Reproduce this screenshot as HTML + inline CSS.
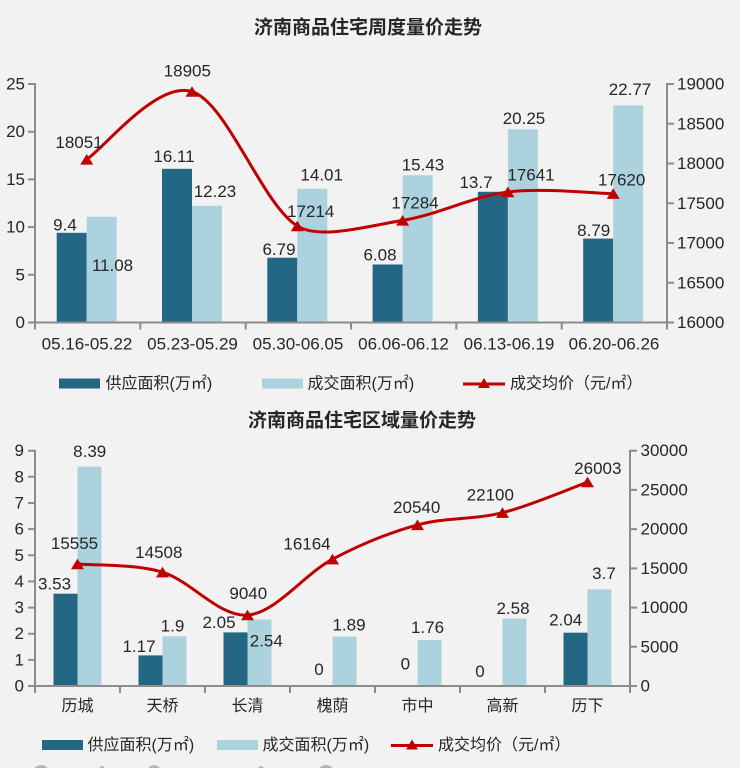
<!DOCTYPE html>
<html><head><meta charset="utf-8">
<style>
html,body{margin:0;padding:0;background:#f2f2f2;}
svg{display:block;}
text{font-family:"Liberation Sans","Noto Sans CJK SC",sans-serif;fill:#262626;}
.t{font-size:19px;font-weight:bold;}
.n{font-size:17px;}
.c{font-size:16px;}
.l{font-size:16px;}
</style></head>
<body>
<svg width="740" height="768" viewBox="0 0 740 768" xmlns="http://www.w3.org/2000/svg">
<rect width="740" height="768" fill="#f2f2f2"/>

<!-- ===== Chart 1 ===== -->
<text class="t" x="368" y="28" text-anchor="middle" dominant-baseline="central">济南商品住宅周度量价走势</text>

<g fill="#246785">
<rect x="56.7" y="232.8" width="30" height="89.7"/>
<rect x="162" y="168.8" width="30" height="153.7"/>
<rect x="267.3" y="257.7" width="30" height="64.8"/>
<rect x="372.6" y="264.5" width="30" height="58"/>
<rect x="477.9" y="191.8" width="30" height="130.7"/>
<rect x="583.2" y="238.6" width="30" height="83.9"/>
</g>
<g fill="#acd2de">
<rect x="86.7" y="216.8" width="30" height="105.7"/>
<rect x="192" y="205.8" width="30" height="116.7"/>
<rect x="297.3" y="188.8" width="30" height="133.7"/>
<rect x="402.6" y="175.3" width="30" height="147.2"/>
<rect x="507.9" y="129.3" width="30" height="193.2"/>
<rect x="613.2" y="105.3" width="30" height="217.2"/>
</g>

<g stroke="#8c8c8c" stroke-width="2" fill="none">
<line x1="35" y1="83" x2="35" y2="323.5"/>
<line x1="667" y1="83" x2="667" y2="323.5"/>
<line x1="34" y1="322.5" x2="668" y2="322.5"/>
<path d="M28 84H35M28 131.7H35M28 179.4H35M28 227.1H35M28 274.8H35M28 322.5H35"/>
<path d="M667 84H674M667 123.75H674M667 163.5H674M667 203.25H674M667 243H674M667 282.75H674M667 322.5H674"/>
<path d="M35 322.5V329.5M140.3 322.5V329.5M245.7 322.5V329.5M351 322.5V329.5M456.3 322.5V329.5M561.7 322.5V329.5M667 322.5V329.5"/>
</g>
<g class="n" text-anchor="end" dominant-baseline="central">
<text x="25" y="84">25</text><text x="25" y="131.7">20</text><text x="25" y="179.4">15</text>
<text x="25" y="227.1">10</text><text x="25" y="274.8">5</text><text x="25" y="322.5">0</text>
</g>
<g class="n" text-anchor="start" dominant-baseline="central">
<text x="677" y="84">19000</text><text x="677" y="123.75">18500</text><text x="677" y="163.5">18000</text>
<text x="677" y="203.25">17500</text><text x="677" y="243">17000</text><text x="677" y="282.75">16500</text>
<text x="677" y="322.5">16000</text>
</g>
<g class="n" text-anchor="middle" dominant-baseline="central">
<text x="87" y="344">05.16-05.22</text><text x="192.5" y="344">05.23-05.29</text>
<text x="298" y="344">05.30-06.05</text><text x="403.5" y="344">06.06-06.12</text>
<text x="509" y="344">06.13-06.19</text><text x="614" y="344">06.20-06.26</text>
</g>

<path d="M86.7 159.4C104.25 148.1 156.9 80.5 192 91.6C227.1 102.7 262.2 204.5 297.3 226C320 240 367.5 226.1 402.6 220.4C437.7 214.73 472.8 196.45 507.9 192C543 187.55 595.65 193.42 613.2 193.7" fill="none" stroke="#c00000" stroke-width="3"/>
<g fill="#c00000">
<path d="M86.7 154L93.2 164.6H80.2Z"/>
<path d="M192 86.2L198.5 96.8H185.5Z"/>
<path d="M297.3 220.6L303.8 231.2H290.8Z"/>
<path d="M402.6 215L409.1 225.6H396.1Z"/>
<path d="M507.9 186.6L514.4 197.2H501.4Z"/>
<path d="M613.2 188.3L619.7 198.9H606.7Z"/>
</g>

<g class="n" text-anchor="middle" dominant-baseline="central">
<text x="65" y="225">9.4</text><text x="112.5" y="265.7">11.08</text>
<text x="174" y="156.7">16.11</text><text x="215" y="191.7">12.23</text>
<text x="279" y="249.3">6.79</text><text x="321.7" y="175">14.01</text>
<text x="380" y="255">6.08</text><text x="423" y="165">15.43</text>
<text x="476" y="182.7">13.7</text><text x="524" y="118.3">20.25</text>
<text x="593.7" y="230.7">8.79</text><text x="630" y="89.3">22.77</text>
<text x="79" y="142.7">18051</text><text x="187.3" y="71">18905</text>
<text x="310.7" y="211.7">17214</text><text x="415" y="203">17284</text>
<text x="531" y="175">17641</text><text x="621.7" y="180">17620</text>
</g>

<rect x="59" y="378.5" width="41" height="10" fill="#246785"/>
<text class="l" x="105.5" y="384" dominant-baseline="central">供应面积(万㎡)</text>
<rect x="262" y="378.5" width="41" height="10" fill="#acd2de"/>
<text class="l" x="307.5" y="384" dominant-baseline="central">成交面积(万㎡)</text>
<line x1="463" y1="384" x2="505" y2="384" stroke="#c00000" stroke-width="3"/>
<path d="M484 378L490 388H478Z" fill="#c00000"/>
<text class="l" x="510" y="384" dominant-baseline="central">成交均价（元/㎡）</text>

<!-- ===== Chart 2 ===== -->
<text class="t" x="362" y="421" text-anchor="middle" dominant-baseline="central">济南商品住宅区域量价走势</text>

<g fill="#246785">
<rect x="53.5" y="593.7" width="24" height="92.3"/>
<rect x="138.5" y="655.4" width="24" height="30.6"/>
<rect x="223.5" y="632.4" width="24" height="53.6"/>
<rect x="563.5" y="632.7" width="24" height="53.3"/>
</g>
<g fill="#acd2de">
<rect x="77.5" y="466.7" width="24" height="219.3"/>
<rect x="162.5" y="636.3" width="24" height="49.7"/>
<rect x="247.5" y="619.6" width="24" height="66.4"/>
<rect x="332.5" y="636.6" width="24" height="49.4"/>
<rect x="417.5" y="640" width="24" height="46"/>
<rect x="502.5" y="618.6" width="24" height="67.4"/>
<rect x="587.5" y="589.3" width="24" height="96.7"/>
</g>

<g stroke="#8c8c8c" stroke-width="2" fill="none">
<line x1="35" y1="450" x2="35" y2="687"/>
<line x1="630" y1="450" x2="630" y2="687"/>
<line x1="34" y1="686" x2="631" y2="686"/>
<path d="M28 450.7H35M28 476.8H35M28 503H35M28 529.1H35M28 555.3H35M28 581.4H35M28 607.6H35M28 633.7H35M28 659.9H35M28 686H35"/>
<path d="M630 450.7H637M630 489.9H637M630 529.1H637M630 568.4H637M630 607.6H637M630 646.8H637M630 686H637"/>
<path d="M35 686V693M120 686V693M205 686V693M290 686V693M375 686V693M460 686V693M545 686V693M630 686V693"/>
</g>
<g class="n" text-anchor="end" dominant-baseline="central">
<text x="24" y="450.7">9</text><text x="24" y="476.8">8</text><text x="24" y="503">7</text>
<text x="24" y="529.1">6</text><text x="24" y="555.3">5</text><text x="24" y="581.4">4</text>
<text x="24" y="607.6">3</text><text x="24" y="633.7">2</text><text x="24" y="659.9">1</text>
<text x="24" y="686">0</text>
</g>
<g class="n" text-anchor="start" dominant-baseline="central">
<text x="640.5" y="450.7">30000</text><text x="640.5" y="489.9">25000</text><text x="640.5" y="529.1">20000</text>
<text x="640.5" y="568.4">15000</text><text x="640.5" y="607.6">10000</text><text x="640.5" y="646.8">5000</text>
<text x="640.5" y="686">0</text>
</g>
<g class="c" text-anchor="middle" dominant-baseline="central">
<text x="77.5" y="706.5">历城</text><text x="162.5" y="706.5">天桥</text><text x="247.5" y="706.5">长清</text>
<text x="332.5" y="706.5">槐荫</text><text x="417.5" y="706.5">市中</text><text x="502.5" y="706.5">高新</text>
<text x="587.5" y="706.5">历下</text>
</g>

<path d="M77.5 564C91.67 565.37 134.17 563.68 162.5 572.2C190.83 580.72 219.17 617.27 247.5 615.1C275.83 612.93 304.17 574.23 332.5 559.2C360.83 544.17 389.17 532.65 417.5 524.9C445.83 517.15 474.17 519.83 502.5 512.7C530.83 505.57 573.33 487.2 587.5 482.1" fill="none" stroke="#c00000" stroke-width="3"/>
<g fill="#c00000">
<path d="M77.5 558.6L84 569.2H71Z"/>
<path d="M162.5 566.8L169 577.4H156Z"/>
<path d="M247.5 609.7L254 620.3H241Z"/>
<path d="M332.5 553.8L339 564.4H326Z"/>
<path d="M417.5 519.5L424 530.1H411Z"/>
<path d="M502.5 507.3L509 517.9H496Z"/>
<path d="M587.5 476.7L594 487.3H581Z"/>
</g>

<g class="n" text-anchor="middle" dominant-baseline="central">
<text x="89.7" y="451.7">8.39</text><text x="74.5" y="543.3">15555</text><text x="54.5" y="584">3.53</text>
<text x="158.8" y="552.7">14508</text><text x="139" y="646.7">1.17</text><text x="172.5" y="626">1.9</text>
<text x="248.3" y="593.3">9040</text><text x="219" y="622.7">2.05</text><text x="266.3" y="641">2.54</text>
<text x="319" y="669.3">0</text><text x="349" y="625">1.89</text><text x="307" y="544">16164</text>
<text x="405.3" y="664">0</text><text x="427.5" y="627.3">1.76</text><text x="416.7" y="507.3">20540</text>
<text x="480" y="671.7">0</text><text x="513" y="608.3">2.58</text><text x="490.3" y="495">22100</text>
<text x="565.7" y="620">2.04</text><text x="604" y="573.3">3.7</text><text x="597.8" y="468.3">26003</text>
</g>

<rect x="42" y="740" width="41" height="10" fill="#246785"/>
<text class="l" x="87.5" y="745.5" dominant-baseline="central">供应面积(万㎡)</text>
<rect x="217" y="740" width="41" height="10" fill="#acd2de"/>
<text class="l" x="262.5" y="745.5" dominant-baseline="central">成交面积(万㎡)</text>
<line x1="391" y1="745.5" x2="433" y2="745.5" stroke="#c00000" stroke-width="3"/>
<path d="M412 739.5L418 749.5H406Z" fill="#c00000"/>
<text class="l" x="438" y="745.5" dominant-baseline="central">成交均价（元/㎡）</text>

<g fill="#b4b4b4">
<ellipse cx="41" cy="775" rx="9" ry="10"/>
<ellipse cx="102" cy="773" rx="4" ry="7"/>
<ellipse cx="154" cy="775" rx="8" ry="10"/>
<ellipse cx="261" cy="773" rx="4" ry="7"/>
<ellipse cx="326" cy="775" rx="9" ry="10"/>
</g>
</svg>
</body></html>
